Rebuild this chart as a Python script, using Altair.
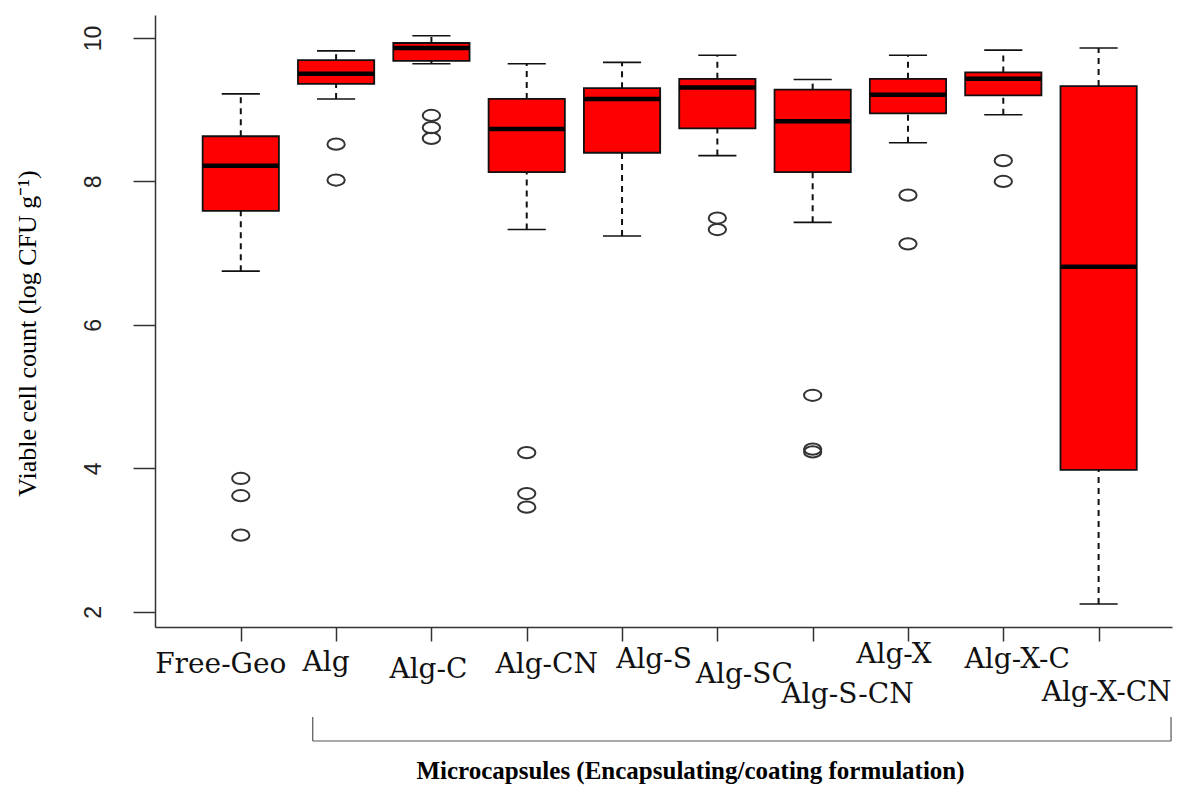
import altair as alt
import pandas as pd

groups = ["Free-Geo", "Alg", "Alg-C", "Alg-CN", "Alg-S", "Alg-SC",
          "Alg-S-CN", "Alg-X", "Alg-X-C", "Alg-X-CN"]
whisker_low = [6.75, 9.15, 9.64, 7.33, 7.24, 8.36, 7.43, 8.54, 8.93, 2.11]
q1 = [7.59, 9.36, 9.68, 8.13, 8.40, 8.74, 8.13, 8.95, 9.20, 3.98]
median = [8.22, 9.50, 9.86, 8.73, 9.15, 9.31, 8.84, 9.21, 9.43, 6.81]
q3 = [8.63, 9.69, 9.93, 9.15, 9.30, 9.43, 9.28, 9.43, 9.52, 9.33]
whisker_high = [9.22, 9.82, 10.03, 9.64, 9.66, 9.76, 9.42, 9.76, 9.83, 9.86]
outliers = {
    "Free-Geo": [3.86, 3.62, 3.07],
    "Alg": [8.52, 8.02],
    "Alg-C": [8.92, 8.75, 8.60],
    "Alg-CN": [4.22, 3.65, 3.46],
    "Alg-S": [],
    "Alg-SC": [7.49, 7.33],
    "Alg-S-CN": [5.02, 4.27, 4.23],
    "Alg-X": [7.81, 7.13],
    "Alg-X-C": [8.29, 8.00],
    "Alg-X-CN": [],
}
y_ticks = [2, 4, 6, 8, 10]
y_title = "Viable cell count (log CFU g\u207b\u00b9)"
x_title = "Microcapsules (Encapsulating/coating formulation)"

# label placement (pixel nudges, style only)
label_nudge = {
    "Free-Geo": (-20, 650), "Alg": (-10, 648), "Alg-C": (-3, 655),
    "Alg-CN": (20, 650), "Alg-S": (32, 645), "Alg-SC": (27, 660),
    "Alg-S-CN": (35, 680), "Alg-X": (-14, 640), "Alg-X-C": (14, 645),
    "Alg-X-CN": (8, 678),
}

df = pd.DataFrame({
    "group": groups,
    "idx": list(range(1, len(groups) + 1)),
    "wlo": whisker_low, "q1": q1, "med": median, "q3": q3, "whi": whisker_high,
})
out_rows = []
for i, g in enumerate(groups):
    for v in outliers[g]:
        out_rows.append({"group": g, "idx": i + 1, "val": v})
df_out = pd.DataFrame(out_rows)

x_scale = alt.Scale(domain=[0.1, 10.77], nice=False, zero=False)
y_scale = alt.Scale(domain=[1.79, 10.32], nice=False, zero=False)

x_axis = alt.Axis(values=list(range(1, 11)), labels=False, tickSize=14,
                  tickColor="#333", tickWidth=1.5, domainColor="#333",
                  domainWidth=1.5, grid=False, title=x_title,
                  titleFont="Liberation Serif", titleFontWeight="bold",
                  titleFontSize=25, titleColor="#000", titleX=535, titleY=143,
                  titleAlign="center", titleBaseline="middle")
y_axis = alt.Axis(values=y_ticks, labelAngle=270, labelAlign="center",
                  labelBaseline="bottom", labelFont="Liberation Sans",
                  labelFontSize=23, labelColor="#222", labelPadding=28,
                  tickSize=22, tickColor="#333", tickWidth=1.5,
                  domainColor="#333", domainWidth=1.5, grid=False,
                  title=y_title, titleFont="Liberation Serif",
                  titleFontWeight="normal", titleFontSize=26, titleColor="#000",
                  titleAngle=270, titleX=-128, titleY=318,
                  titleAlign="center", titleBaseline="middle")


def X(field):
    return alt.X(field, type="quantitative", scale=x_scale, axis=x_axis)


def Y(field):
    return alt.Y(field, type="quantitative", scale=y_scale, axis=y_axis)


base = alt.Chart(df).transform_calculate(
    lo="datum.idx - 0.4", hi="datum.idx + 0.4",
    slo="datum.idx - 0.2", shi="datum.idx + 0.2")

whisk_up = base.mark_rule(color="#111", strokeWidth=2, strokeDash=[6, 5]).encode(
    x=X("idx"), y=Y("q3"), y2="whi")
whisk_dn = base.mark_rule(color="#111", strokeWidth=2, strokeDash=[6, 5]).encode(
    x=X("idx"), y=Y("wlo"), y2="q1")
cap_up = base.mark_rule(color="#111", strokeWidth=1.6).encode(
    x=X("slo"), x2="shi", y=Y("whi"))
cap_dn = base.mark_rule(color="#111", strokeWidth=1.6).encode(
    x=X("slo"), x2="shi", y=Y("wlo"))
boxes = base.mark_rect(fill="#ff0000", stroke="#111", strokeWidth=1.8).encode(
    x=X("lo"), x2="hi", y=Y("q1"), y2="q3")
meds = base.mark_rule(color="#000", strokeWidth=4.5).encode(
    x=X("lo"), x2="hi", y=Y("med"))

ellipse = ("M -1 0 C -1 -0.359 -0.552 -0.65 0 -0.65 C 0.552 -0.65 1 -0.359 1 0 "
           "C 1 0.359 0.552 0.65 0 0.65 C -0.552 0.65 -1 0.359 -1 0 Z")
outs = alt.Chart(df_out).mark_point(shape=ellipse, size=300, filled=False,
                                    stroke="#333", strokeWidth=2, opacity=1).encode(
    x=X("idx"), y=Y("val"))

labels = []
for i, g in enumerate(groups):
    dx, ypix = label_nudge[g]
    lab = alt.Chart(pd.DataFrame({"idx": [i + 1], "name": [g]})).mark_text(
        font="DejaVu Serif", fontSize=28, color="#111", dx=dx,
        align="center", baseline="middle").encode(
        x=X("idx"), y=alt.value(ypix), text="name:N")
    labels.append(lab)

bracket_df = pd.DataFrame({"a": [1.755], "b": [10.76]})
br_h = alt.Chart(bracket_df).mark_rule(color="#555", strokeWidth=1.2).encode(
    x=X("a"), x2="b", y=alt.value(726))
br_l = alt.Chart(bracket_df).mark_rule(color="#555", strokeWidth=1.2).encode(
    x=X("a"), y=alt.value(702), y2=alt.value(726))
br_r = alt.Chart(bracket_df).mark_rule(color="#555", strokeWidth=1.2).encode(
    x=X("b"), y=alt.value(702), y2=alt.value(726))

chart = alt.layer(whisk_up, whisk_dn, cap_up, cap_dn, boxes, meds, outs,
                  *labels, br_h, br_l, br_r).properties(
    width=1017, height=612,
    padding={"left": 147, "top": 7, "right": 1, "bottom": 161},
    autosize=alt.AutoSizeParams(type="none"),
    background="white",
).configure_view(stroke=None)

chart.save("out.html", embed_options={"renderer": "svg", "actions": False})
